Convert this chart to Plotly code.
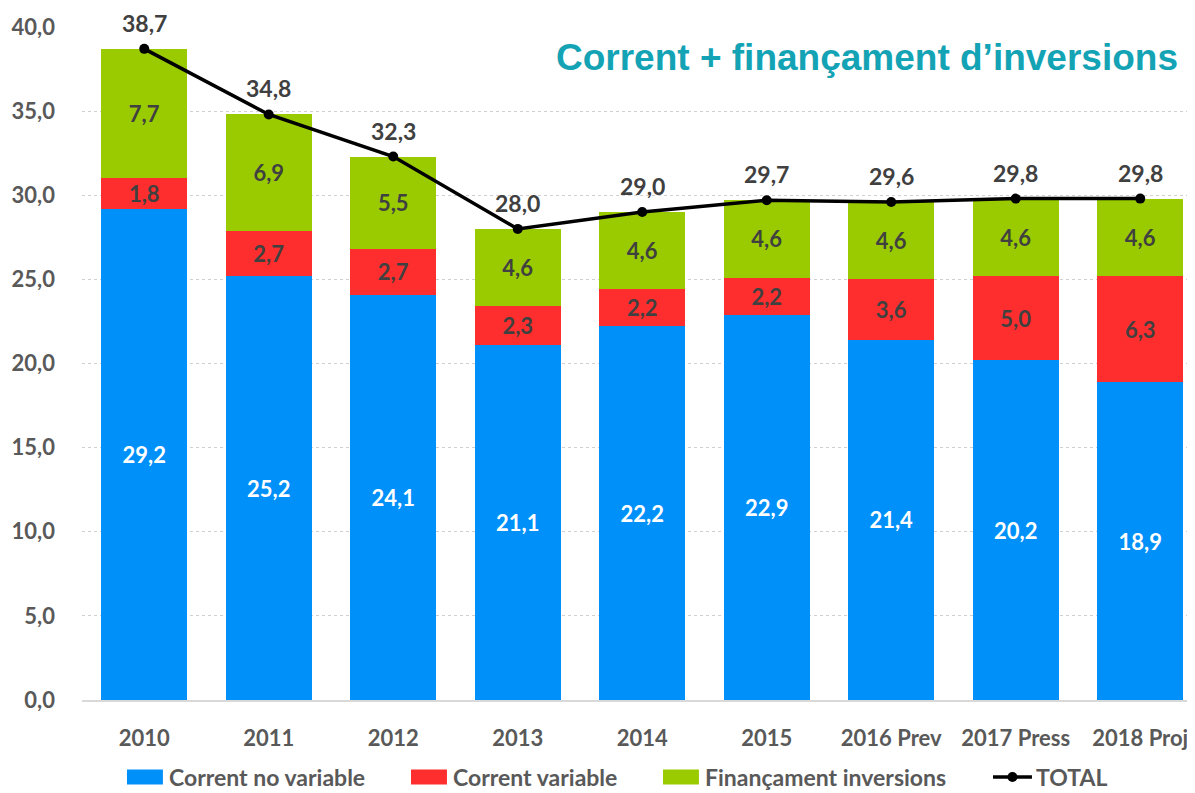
import plotly.graph_objects as go

categories = ["2010", "2011", "2012", "2013", "2014", "2015", "2016 Prev", "2017 Press", "2018 Proj"]
corrent_no_variable = [29.2, 25.2, 24.1, 21.1, 22.2, 22.9, 21.4, 20.2, 18.9]
corrent_variable = [1.8, 2.7, 2.7, 2.3, 2.2, 2.2, 3.6, 5.0, 6.3]
financament_inversions = [7.7, 6.9, 5.5, 4.6, 4.6, 4.6, 4.6, 4.6, 4.6]
total = [38.7, 34.8, 32.3, 28.0, 29.0, 29.7, 29.6, 29.8, 29.8]
y_ticks = [0, 5, 10, 15, 20, 25, 30, 35, 40]

series_names = ["Corrent no variable", "Corrent variable", "Finançament inversions", "TOTAL"]
series_colors = ["#0090FA", "#FF2E2E", "#99CB00", "#000000"]

FONT = "Lato"
GRAY = "#595959"
DARK = "#404040"

def fmt(v):
    return f"{v:.1f}".replace(".", ",")

fig = go.Figure()

def bar(name, vals, color, txtcolor):
    fig.add_trace(go.Bar(
        x=categories, y=vals, name=name,
        marker=dict(color=color, line=dict(width=0)),
        texttemplate="%{y:.1f}", textposition="inside", insidetextanchor="middle",
        textangle=0, constraintext="none",
        textfont=dict(family=FONT, size=22, color=txtcolor, weight="bold"),
        hoverinfo="skip", showlegend=False,
    ))

bar(series_names[0], corrent_no_variable, series_colors[0], "#FFFFFF")
bar(series_names[1], corrent_variable, series_colors[1], DARK)
bar(series_names[2], financament_inversions, series_colors[2], DARK)

fig.add_trace(go.Scatter(
    x=categories, y=total, name=series_names[3],
    mode="lines+markers",
    line=dict(color="#000000", width=3.5),
    marker=dict(color="#000000", size=10),
    cliponaxis=False, showlegend=False,
))

# total labels above the points (x given as category index)
for i, v in enumerate(total):
    fig.add_annotation(
        x=i, y=v, text=fmt(v), showarrow=False, yshift=26, yanchor="middle",
        font=dict(family=FONT, size=23, color=DARK, weight="bold"),
    )

# title
fig.add_annotation(
    text="Corrent + finançament d’inversions",
    xref="paper", yref="paper", x=0.9865, y=0.955, xanchor="right", yanchor="middle",
    showarrow=False,
    font=dict(family="Liberation Sans", size=37, color="#13A3B5", weight="bold"),
)

# legend (drawn below the axis)
legend_x = [0.0404, 0.2956, 0.5220, 0.8185]   # left edge of each swatch, paper coords
SW = 0.0323
LYC = -0.1145
LY0, LY1 = LYC - 0.0111, LYC + 0.0111
for i, (name, color) in enumerate(zip(series_names, series_colors)):
    x0 = legend_x[i]
    if name == "TOTAL":
        x1 = x0 + 0.0350
        fig.add_shape(type="line", xref="paper", yref="paper", x0=x0, x1=x1, y0=LYC, y1=LYC,
                      line=dict(color=color, width=3.5))
        fig.add_shape(type="circle", xref="paper", yref="paper",
                      x0=(x0 + x1) / 2 - 0.0045, x1=(x0 + x1) / 2 + 0.0045,
                      y0=LYC - 0.0074, y1=LYC + 0.0074,
                      fillcolor=color, line=dict(width=0))
        tx = x1 + 0.0018
    else:
        x1 = x0 + SW
        fig.add_shape(type="rect", xref="paper", yref="paper", x0=x0, x1=x1, y0=LY0, y1=LY1,
                      fillcolor=color, line=dict(width=0))
        tx = x1 + 0.0036
    fig.add_annotation(
        text=name, xref="paper", yref="paper", x=tx, y=LYC, xanchor="left", yanchor="middle",
        showarrow=False, font=dict(family=FONT, size=23, color=GRAY, weight="bold"),
    )

fig.update_layout(
    width=1187, height=785,
    margin=dict(l=74, r=0, t=19, b=93),
    barmode="stack", bargap=0.31,
    separators=",.",
    plot_bgcolor="white", paper_bgcolor="white",
    showlegend=False,
    xaxis=dict(
        range=[-0.5, 8.44], automargin=False,
        tickfont=dict(family=FONT, size=22, color=GRAY, weight="bold"),
        showline=True, linecolor="#D9D9D9", linewidth=1.5,
        ticks="", ticklabelstandoff=18,
    ),
    yaxis=dict(
        range=[0, 40], tickvals=y_ticks, tickformat=".1f", automargin=False,
        tickfont=dict(family=FONT, size=22, color=GRAY, weight="bold"),
        showgrid=True, gridcolor="#D0D0D0", griddash="dot", gridwidth=1,
        zeroline=False, ticks="", ticklabelstandoff=26,
    ),
)

fig.write_html("out.html")
